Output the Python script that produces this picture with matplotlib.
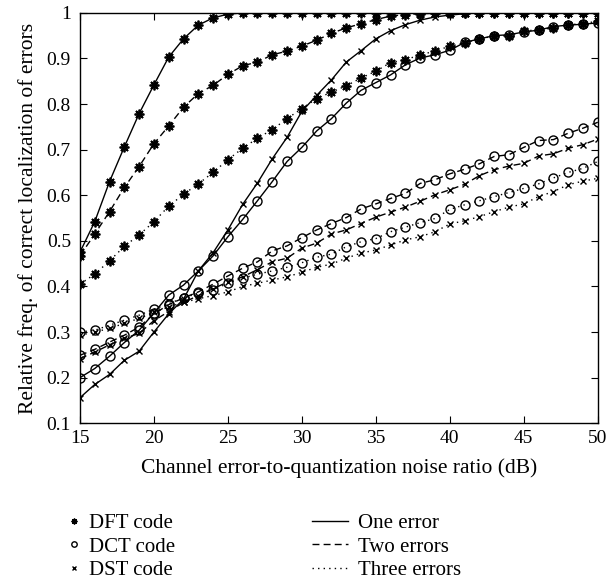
import numpy as np
import matplotlib
matplotlib.use('agg')
from matplotlib import pyplot as plt
from matplotlib.lines import Line2D

plt.rcParams['font.family'] = ['Liberation Serif', 'DejaVu Serif']
plt.rcParams['font.size'] = 14

snr = np.arange(15, 51)

# one error
dftOne = [0.475, 0.542, 0.63, 0.706, 0.779, 0.842, 0.903, 0.943, 0.973, 0.989, 0.997] + [1.0] * 25
dctOne = [0.200, 0.220, 0.247, 0.277, 0.304, 0.342, 0.381, 0.403, 0.434, 0.467, 0.509, 0.547,
          0.588, 0.630, 0.674, 0.705, 0.741, 0.768, 0.802, 0.830, 0.847, 0.864, 0.886, 0.901,
          0.908, 0.918, 0.935, 0.943, 0.950, 0.952, 0.958, 0.962, 0.970, 0.973, 0.975, 0.978]
dstOne = [0.156, 0.185, 0.207, 0.238, 0.258, 0.300, 0.340, 0.372, 0.434, 0.474, 0.524, 0.580,
          0.627, 0.680, 0.727, 0.784, 0.819, 0.853, 0.892, 0.917, 0.943, 0.961, 0.974, 0.984,
          0.991, 0.995, 0.998] + [1.0] * 9

# two errors
dftTwo = [0.467, 0.515, 0.564, 0.617, 0.663, 0.713, 0.752, 0.793, 0.823, 0.841, 0.865, 0.884,
          0.892, 0.908, 0.916, 0.927, 0.940, 0.955, 0.967, 0.976, 0.985, 0.993, 0.996, 0.998,
          0.999] + [1.0] * 11
dctTwo = [0.249, 0.262, 0.278, 0.293, 0.311, 0.340, 0.360, 0.375, 0.388, 0.405, 0.423, 0.440,
          0.454, 0.478, 0.489, 0.507, 0.524, 0.538, 0.551, 0.570, 0.581, 0.593, 0.604, 0.626,
          0.634, 0.647, 0.657, 0.669, 0.685, 0.689, 0.705, 0.720, 0.722, 0.736, 0.747, 0.760]
dstTwo = [0.242, 0.256, 0.272, 0.286, 0.297, 0.325, 0.345, 0.365, 0.380, 0.395, 0.410, 0.421,
          0.437, 0.454, 0.462, 0.484, 0.495, 0.515, 0.524, 0.538, 0.552, 0.563, 0.574, 0.587,
          0.601, 0.612, 0.624, 0.643, 0.656, 0.664, 0.670, 0.686, 0.691, 0.703, 0.711, 0.723]

# three errors
dftThree = [0.405, 0.427, 0.456, 0.488, 0.513, 0.542, 0.576, 0.602, 0.625, 0.650, 0.678, 0.703,
            0.725, 0.744, 0.768, 0.790, 0.812, 0.826, 0.840, 0.857, 0.872, 0.891, 0.897, 0.908,
            0.916, 0.927, 0.934, 0.943, 0.949, 0.950, 0.960, 0.963, 0.967, 0.974, 0.976, 0.982]
dctThree = [0.300, 0.304, 0.315, 0.326, 0.337, 0.350, 0.362, 0.375, 0.385, 0.392, 0.407, 0.418,
            0.427, 0.434, 0.442, 0.452, 0.464, 0.471, 0.487, 0.498, 0.505, 0.520, 0.530, 0.540,
            0.549, 0.569, 0.579, 0.588, 0.597, 0.606, 0.615, 0.625, 0.638, 0.650, 0.659, 0.674]
dstThree = [0.293, 0.300, 0.308, 0.319, 0.330, 0.343, 0.355, 0.365, 0.373, 0.380, 0.388, 0.400,
            0.407, 0.414, 0.421, 0.431, 0.442, 0.449, 0.462, 0.473, 0.480, 0.491, 0.502, 0.509,
            0.520, 0.537, 0.544, 0.553, 0.564, 0.574, 0.581, 0.597, 0.608, 0.623, 0.631, 0.637]

codeNames = ['DFT code', 'DCT code', 'DST code']
errNames = ['One error', 'Two errors', 'Three errors']

asterisk = (8, 2, 0)
markers = {'DFT': dict(marker=asterisk, markersize=7, markeredgewidth=1.3),
           'DCT': dict(marker='o', markersize=6.5, markerfacecolor='none', markeredgewidth=1.0),
           'DST': dict(marker='x', markersize=4.5, markeredgewidth=1.0)}
styles = ['-', (0, (5, 3)), (0, (1, 3))]

series = [('DFT', [dftOne, dftTwo, dftThree]),
          ('DCT', [dctOne, dctTwo, dctThree]),
          ('DST', [dstOne, dstTwo, dstThree])]

fig = plt.figure(figsize=(6.15, 5.83), dpi=100)
ax = fig.add_axes([0.130, 0.274, 0.842, 0.704])

for code, curves in series:
    for ls, vals in zip(styles, curves):
        ax.plot(snr, vals, color='black', linestyle=ls, linewidth=1.0, **markers[code])

ax.set_xlim(15, 50)
ax.set_ylim(0.1, 1.0)
ax.set_xticks(np.arange(15, 51, 5))
ax.set_yticks(np.round(np.arange(0.1, 1.01, 0.1), 1))
ax.set_yticklabels(['0.1', '0.2', '0.3', '0.4', '0.5', '0.6', '0.7', '0.8', '0.9', '1'])
ax.tick_params(direction='in', top=True, right=True, length=5, width=0.8, labelsize=14)
ax.tick_params(axis='x', pad=5)
ax.tick_params(axis='y', pad=6.5)
for sp in ax.spines.values():
    sp.set_linewidth(1.0)
ax.set_xlabel('Channel error-to-quantization noise ratio (dB)', fontsize=15.5, labelpad=8)
ax.set_ylabel('Relative freq. of correct localization of errors', fontsize=15.5, labelpad=6)

codeHandles = [Line2D([], [], color='black', linestyle='none',
                      marker=m['marker'], markersize=m['markersize'] * 0.6,
                      markerfacecolor=m.get('markerfacecolor', 'black'),
                      markeredgewidth=1.0)
               for m in [markers['DFT'], markers['DCT'], markers['DST']]]
errHandles = [Line2D([], [], color='black', linestyle=ls, linewidth=1.0) for ls in styles]

leg1 = fig.legend(codeHandles, codeNames, loc='upper left', bbox_to_anchor=(0.094, 0.133),
                  frameon=False, handlelength=0.8, handletextpad=0.3, labelspacing=0.18,
                  borderaxespad=0, fontsize=15)
leg2 = fig.legend(errHandles, errNames, loc='upper left', bbox_to_anchor=(0.494, 0.133),
                  frameon=False, handlelength=1.7, handletextpad=0.5, labelspacing=0.18,
                  borderaxespad=0, fontsize=15)

fig.savefig('out.png', dpi=100)
